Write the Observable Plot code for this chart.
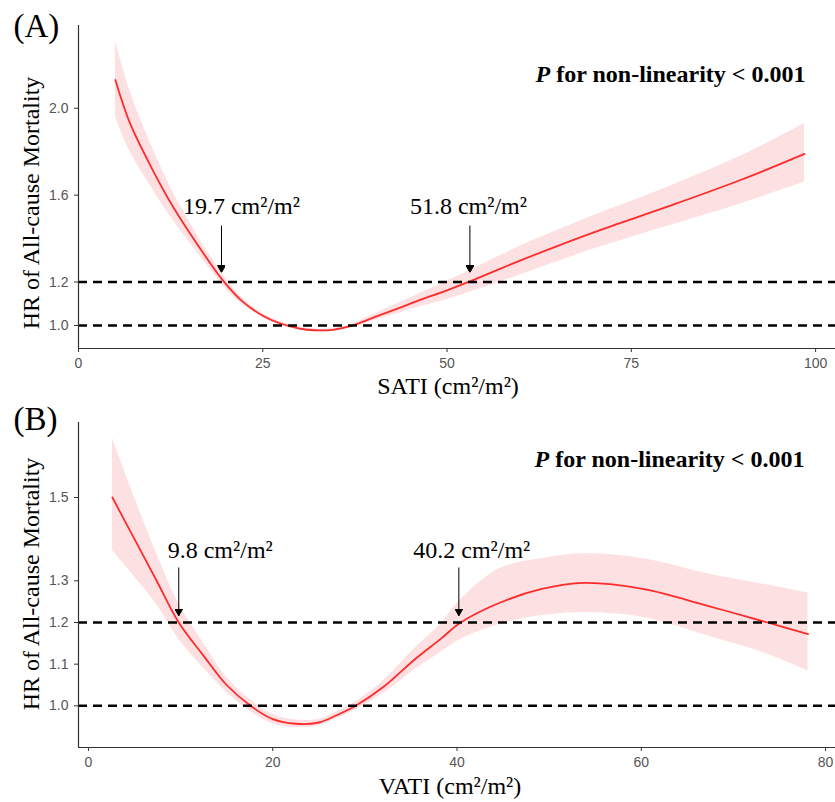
<!DOCTYPE html>
<html><head><meta charset="utf-8">
<script src="https://cdn.jsdelivr.net/npm/d3@7"></script>
<script src="https://cdn.jsdelivr.net/npm/@observablehq/plot@0.6"></script>
<style>body{margin:0;background:#fff} #chart svg{display:block}</style>
</head><body><div id="chart"></div>
<script>
// ---------- Panel A: SATI ----------
const satiX  = [5, 7, 10, 12.5, 15, 17.5, 19.7, 22, 25, 27.5, 30, 32, 34.5, 37, 40, 43, 46, 50, 53, 60, 70, 80, 90, 98.5];
const satiHR = [2.13, 1.93, 1.72, 1.565, 1.43, 1.305, 1.203, 1.118, 1.045, 1.008, 0.986, 0.978, 0.98, 0.998, 1.036, 1.074, 1.113, 1.162, 1.202, 1.30, 1.43, 1.548, 1.672, 1.79];
const satiLo = [1.96, 1.80, 1.63, 1.50, 1.385, 1.275, 1.18, 1.103, 1.035, 1.0, 0.978, 0.971, 0.973, 0.99, 1.022, 1.052, 1.083, 1.12, 1.152, 1.234, 1.353, 1.458, 1.562, 1.66];
const satiHi = [2.31, 2.08, 1.82, 1.635, 1.48, 1.34, 1.23, 1.135, 1.055, 1.016, 0.994, 0.985, 0.987, 1.006, 1.05, 1.096, 1.143, 1.204, 1.252, 1.366, 1.507, 1.638, 1.782, 1.93];
const satiXTicks = [0, 25, 50, 75, 100];
const satiYTicks = [1.0, 1.2, 1.6, 2.0];
const satiCutLabels = ["19.7 cm²/m²", "51.8 cm²/m²"];
const satiCutX = [19.4, 53.1];
const satiLabelX = [22.1, 52.9];
const satiLabelY = [1.515, 1.515];
const satiArrowFrom = [1.46, 1.46];
const satiArrowTo = [1.244, 1.244];

// ---------- Panel B: VATI ----------
const vatiX  = [2.6, 5, 7.5, 9.8, 12.5, 15, 17.6, 20, 22.5, 25, 27, 29, 32, 35.5, 38.2, 40.4, 44.7, 49.1, 53.8, 60.3, 67.2, 73.7, 78.1];
const vatiHR = [1.50, 1.40, 1.296, 1.20, 1.12, 1.05, 1.00, 0.968, 0.957, 0.96, 0.978, 1.0, 1.045, 1.113, 1.16, 1.20, 1.248, 1.28, 1.295, 1.28, 1.24, 1.20, 1.172];
const vatiLo = [1.373, 1.31, 1.24, 1.16, 1.09, 1.032, 0.986, 0.957, 0.948, 0.952, 0.97, 0.99, 1.03, 1.088, 1.128, 1.16, 1.196, 1.216, 1.224, 1.212, 1.168, 1.124, 1.084];
const vatiHi = [1.643, 1.50, 1.36, 1.245, 1.15, 1.068, 1.014, 0.979, 0.966, 0.968, 0.986, 1.01, 1.06, 1.14, 1.195, 1.255, 1.33, 1.353, 1.365, 1.353, 1.317, 1.29, 1.271];
const vatiXTicks = [0, 20, 40, 60, 80];
const vatiYTicks = [1.0, 1.1, 1.2, 1.3, 1.5];
const vatiCutLabels = ["9.8 cm²/m²", "40.2 cm²/m²"];
const vatiCutX = [9.8, 40.2];
const vatiLabelX = [14.3, 41.6];
const vatiLabelY = [1.356, 1.356];
const vatiArrowFrom = [1.332, 1.332];
const vatiArrowTo = [1.216, 1.216];

const refLines = [1.0, 1.2];
const pText = "P for non-linearity < 0.001";
const yTitle = "HR of All-cause Mortality";

const SERIF = "'Liberation Serif', 'Times New Roman', serif";
const SANS = "'Liberation Sans', Arial, sans-serif";

function arrowHead() {
  const ns = "http://www.w3.org/2000/svg";
  const m = document.createElementNS(ns, "marker");
  m.setAttribute("viewBox", "-7 -4 7 8");
  m.setAttribute("refX", "0"); m.setAttribute("refY", "0");
  m.setAttribute("markerWidth", "7"); m.setAttribute("markerHeight", "8");
  m.setAttribute("markerUnits", "userSpaceOnUse");
  m.setAttribute("orient", "auto");
  const p = document.createElementNS(ns, "path");
  p.setAttribute("d", "M-7,-4L0,0L-7,4Z");
  p.setAttribute("fill", "black");
  m.appendChild(p);
  return m;
}

function panel(cfg) {
  const data = cfg.x.map((x, i) => ({x, hr: cfg.hr[i], lo: cfg.lo[i], hi: cfg.hi[i]}));
  const anno = cfg.labels.map((label, i) => ({label, ax: cfg.cutX[i], tx: cfg.labelX[i], ty: cfg.labelY[i], y1: cfg.from[i], y2: cfg.to[i]}));
  const svg = Plot.plot({
    width: 835, height: cfg.height,
    marginTop: cfg.mt, marginBottom: cfg.mb, marginLeft: cfg.ml, marginRight: 0,
    x: {domain: cfg.xDomain},
    y: {domain: cfg.yDomain},
    style: {background: "white", fontFamily: SANS},
    marks: [
      Plot.areaY(data, {x: "x", y1: "lo", y2: "hi", fill: "#fde0e2", curve: "catmull-rom"}),
      Plot.lineY(data, {x: "x", y: "hr", stroke: "#ff2b2b", strokeWidth: 1.8, curve: "catmull-rom"}),
      Plot.ruleY(refLines, {stroke: "black", strokeWidth: 2.5, strokeDasharray: "9,6"}),
      Plot.ruleY([cfg.yDomain[0]], {stroke: "#333", strokeWidth: 1.2}),
      Plot.ruleX([cfg.xDomain[0]], {stroke: "#333", strokeWidth: 1.2}),
      Plot.axisX({ticks: cfg.xTicks, tickSize: 4, tickPadding: 6, tickFormat: d3.format("d"), fontSize: 14, stroke: "#333", fill: "#555", label: null}),
      Plot.axisY({ticks: cfg.yTicks, tickSize: 4, tickPadding: 6, tickFormat: d3.format(".1f"), fontSize: 14, stroke: "#333", fill: "#555", label: null}),
      Plot.link(anno, {x1: "ax", x2: "ax", y1: "y1", y2: "y2", stroke: "black", strokeWidth: 1, markerEnd: arrowHead}),
      Plot.text(anno, {x: "tx", y: "ty", text: "label", fontFamily: SERIF, fontSize: 24, lineAnchor: "bottom", textAnchor: "middle", fill: "black"}),
      Plot.text([pText], {frameAnchor: "top-right", text: d => d, dx: cfg.pdx, dy: cfg.pdy, textAnchor: "end", lineAnchor: "bottom", fontFamily: SERIF, fontSize: 24, fontWeight: "bold", fill: "black"}),
      Plot.text([cfg.xTitle], {frameAnchor: "bottom", text: d => d, dx: cfg.xtdx, dy: cfg.xtdy, lineAnchor: "bottom", fontFamily: SERIF, fontSize: 24, fill: "black"}),
      Plot.text([yTitle], {frameAnchor: "left", text: d => d, rotate: -90, dx: -40, dy: cfg.ytdy, lineAnchor: "bottom", textAnchor: "middle", fontFamily: SERIF, fontSize: 24, fill: "black"}),
      Plot.text([cfg.tag], {frameAnchor: "top-left", text: d => d, dx: cfg.tagdx, dy: cfg.tagdy, textAnchor: "start", lineAnchor: "bottom", fontFamily: SERIF, fontSize: 33, fill: "black"})
    ]
  });
  for (const t of svg.querySelectorAll("text")) {
    if (t.textContent === pText) {
      const ns = "http://www.w3.org/2000/svg";
      t.textContent = "";
      const a = document.createElementNS(ns, "tspan");
      a.setAttribute("font-style", "italic");
      a.textContent = "P";
      const b = document.createElementNS(ns, "tspan");
      b.textContent = pText.slice(1);
      t.appendChild(a); t.appendChild(b);
    }
  }
  return svg;
}

const chart = document.getElementById("chart");
chart.appendChild(panel({
  x: satiX, hr: satiHR, lo: satiLo, hi: satiHi,
  labels: satiCutLabels, cutX: satiCutX, labelX: satiLabelX, labelY: satiLabelY, from: satiArrowFrom, to: satiArrowTo,
  xTicks: satiXTicks, yTicks: satiYTicks,
  height: 400, mt: 25, mb: 52, ml: 78,
  xDomain: [0, 102.7], yDomain: [0.894, 2.381],
  pdx: -30, pdy: 56, xTitle: "SATI (cm²/m²)", xtdx: -9, xtdy: 45, ytdy: 16,
  tag: "(A)", tagdx: -65, tagdy: 11
}));
chart.appendChild(panel({
  x: vatiX, hr: vatiHR, lo: vatiLo, hi: vatiHi,
  labels: vatiCutLabels, cutX: vatiCutX, labelX: vatiLabelX, labelY: vatiLabelY, from: vatiArrowFrom, to: vatiArrowTo,
  xTicks: vatiXTicks, yTicks: vatiYTicks,
  height: 402, mt: 22, mb: 55, ml: 78,
  xDomain: [-1.08, 81.08], yDomain: [0.9, 1.68],
  pdx: -31, pdy: 44.7, xTitle: "VATI (cm²/m²)", xtdx: -7, xtdy: 46, ytdy: -1,
  tag: "(B)", tagdx: -65, tagdy: 7
}));
</script>
</body></html>
